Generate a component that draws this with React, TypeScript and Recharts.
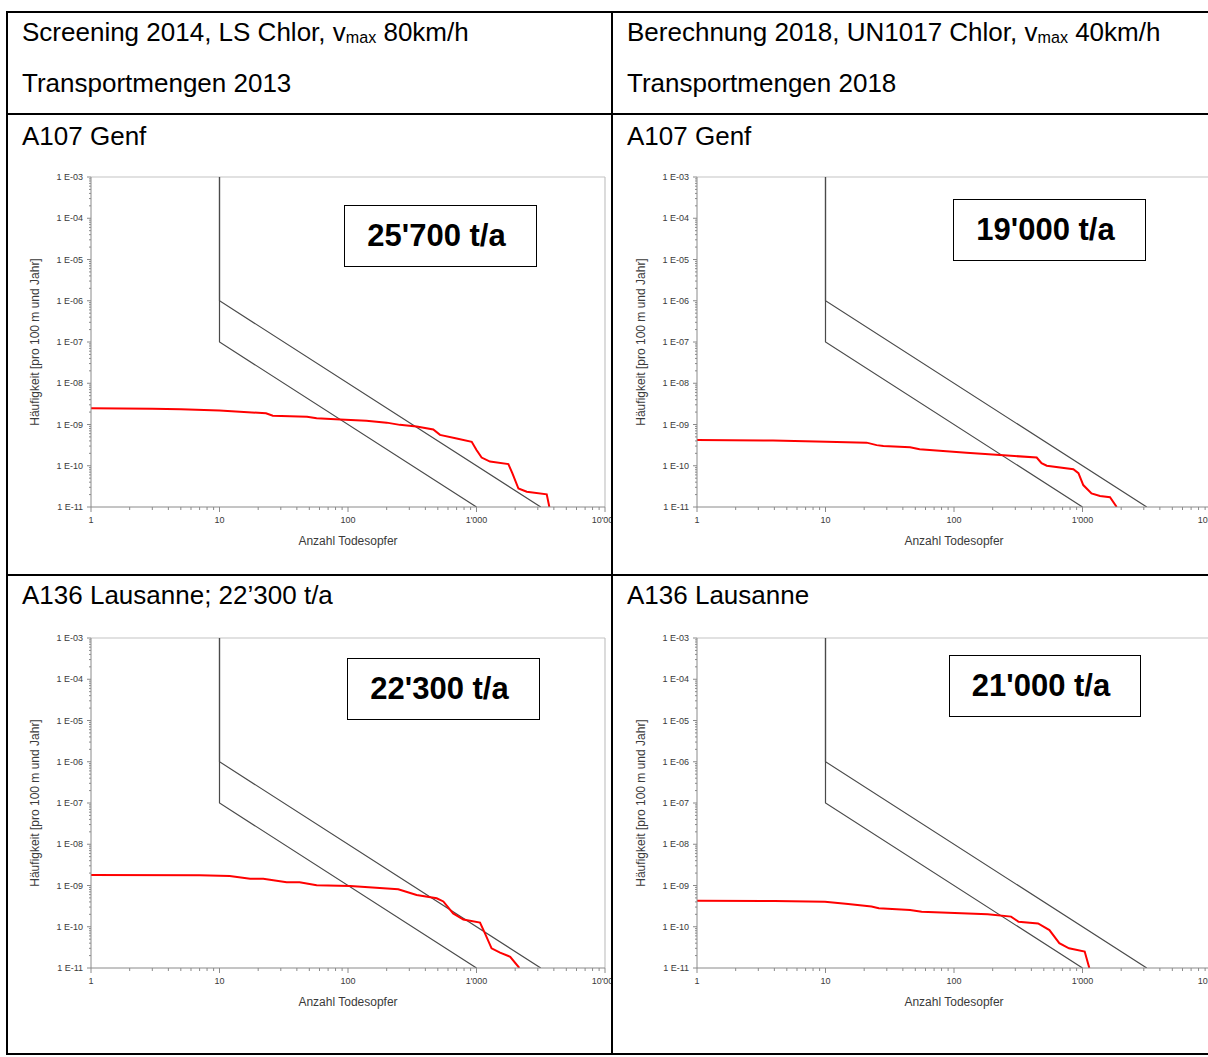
import React from 'react';
import { LineChart, Line, XAxis, YAxis, ReferenceLine } from 'recharts';

// ---------- axis ticks ----------
const xMajorTicks = [1, 10, 100, 1000, 10000];
const xTickLabels = ['1', '10', '100', "1'000", "10'000"];
const yMajorTicks = [1e-11, 1e-10, 1e-9, 1e-8, 1e-7, 1e-6, 1e-5, 1e-4, 1e-3];
const yTickLabels = ['1 E-11', '1 E-10', '1 E-09', '1 E-08', '1 E-07', '1 E-06', '1 E-05', '1 E-04', '1 E-03'];
const minorMultipliers = [2, 3, 4, 5, 6, 7, 8, 9];

// ---------- criteria lines (FN diagram) ----------
const limitUpperN = [10, 10, 3162];
const limitUpperF = [1e-3, 1e-6, 1e-11];
const limitLowerN = [10, 10, 1000];
const limitLowerF = [1e-3, 1e-7, 1e-11];

// ---------- FN curves ----------
// A107 Genf, Screening 2014
const genf2014N = [1, 3, 5, 10, 23, 26, 48, 57, 87, 139, 200, 253, 342, 461, 520, 701, 918, 1000, 1096, 1274, 1770, 1900, 2120, 2460, 3520, 3690];
const genf2014F = [2.46e-9, 2.42e-9, 2.35e-9, 2.17e-9, 1.87e-9, 1.63e-9, 1.55e-9, 1.42e-9, 1.33e-9, 1.24e-9, 1.11e-9, 9.8e-10, 8.9e-10, 7.6e-10, 5.6e-10, 4.6e-10, 3.8e-10, 2.4e-10, 1.58e-10, 1.26e-10, 1.1e-10, 6.6e-11, 2.8e-11, 2.35e-11, 2.03e-11, 1e-11];

// A107 Genf, Berechnung 2018
const genf2018N = [1, 3.9, 10.2, 20.9, 25, 28.2, 45.5, 54, 125, 228, 440, 480, 527, 849, 930, 1014, 1175, 1368, 1637, 1846];
const genf2018F = [4.2e-10, 4.1e-10, 3.84e-10, 3.63e-10, 3.16e-10, 3.0e-10, 2.8e-10, 2.5e-10, 2.08e-10, 1.82e-10, 1.58e-10, 1.15e-10, 1.0e-10, 8.2e-11, 6.6e-11, 3.4e-11, 2.14e-11, 1.85e-11, 1.72e-11, 1e-11];

// A136 Lausanne, Screening 2014
const lausanne2014N = [1, 7, 12, 17.3, 21.9, 33.3, 42, 57, 104, 246, 342, 490, 552, 658, 790, 1065, 1164, 1310, 1525, 1830, 2155];
const lausanne2014F = [1.8e-9, 1.78e-9, 1.7e-9, 1.46e-9, 1.45e-9, 1.2e-9, 1.2e-9, 1.02e-9, 9.7e-10, 8.1e-10, 5.9e-10, 4.9e-10, 4.1e-10, 2.1e-10, 1.5e-10, 1.26e-10, 6.9e-11, 3.0e-11, 2.35e-11, 1.87e-11, 1e-11];

// A136 Lausanne, Berechnung 2018
const lausanne2018N = [1, 4, 9.9, 15, 22.8, 26, 45.5, 56, 183, 278, 318, 451, 553, 660, 785, 1040, 1130];
const lausanne2018F = [4.27e-10, 4.2e-10, 4.05e-10, 3.56e-10, 3.1e-10, 2.8e-10, 2.56e-10, 2.3e-10, 2.0e-10, 1.76e-10, 1.32e-10, 1.2e-10, 8.3e-11, 4.0e-11, 3.0e-11, 2.5e-11, 1e-11];

// ---------- texts ----------
const tonnages = ["25'700 t/a", "19'000 t/a", "22'300 t/a", "21'000 t/a"];
const xAxisTitle = 'Anzahl Todesopfer';
const yAxisTitle = 'Häufigkeit [pro 100 m und Jahr]';

type Pt = { n: number; f: number };
const toPts = (ns: number[], fs: number[]): Pt[] => ns.map((n, i) => ({ n, f: fs[i] }));

const round = (v: number) => Number(v.toPrecision(6));
const xTicks: number[] = [];
xMajorTicks.forEach((d, i) => {
  xTicks.push(d);
  if (i < xMajorTicks.length - 1) minorMultipliers.forEach((m) => xTicks.push(round(d * m)));
});
const yTicks: number[] = [];
yMajorTicks.forEach((d, i) => {
  yTicks.push(d);
  if (i < yMajorTicks.length - 1) minorMultipliers.forEach((m) => yTicks.push(round(d * m)));
});

const AXIS = '#8a8a8a';
const LABEL = '#3a3a3a';
const FONT = '"Liberation Sans", Arial, Helvetica, sans-serif';

const XTick = (props: any) => {
  const { x, y, payload } = props;
  const idx = xMajorTicks.indexOf(payload.value);
  const major = idx >= 0;
  return (
    <g>
      <line x1={x} x2={x} y1={y} y2={y + (major ? 5 : 3)} stroke={AXIS} strokeWidth={1} />
      {major && (
        <text x={x} y={y + 16} textAnchor="middle" fontSize={9} fill={LABEL}>
          {xTickLabels[idx]}
        </text>
      )}
    </g>
  );
};

const YTick = (props: any) => {
  const { x, y, payload } = props;
  const idx = yMajorTicks.indexOf(payload.value);
  const major = idx >= 0;
  return (
    <g>
      <line x1={x - (major ? 4 : 2)} x2={x} y1={y} y2={y} stroke={AXIS} strokeWidth={1} />
      {major && (
        <text x={x - 8} y={y + 3} textAnchor="end" fontSize={9} fill={LABEL}>
          {yTickLabels[idx]}
        </text>
      )}
    </g>
  );
};

const upperLine = toPts(limitUpperN, limitUpperF);
const lowerLine = toPts(limitLowerN, limitLowerF);

function FnChart({ redN, redF }: { redN: number[]; redF: number[] }) {
  const red = toPts(redN, redF);
  return (
    <LineChart width={632} height={459} margin={{ top: 62, right: 6, bottom: 0, left: 0 }}>
      <XAxis
        type="number"
        dataKey="n"
        scale="log"
        domain={[1, 10000]}
        allowDataOverflow
        ticks={xTicks}
        interval={0}
        tickSize={0}
        tickMargin={0}
        tickLine={false}
        tick={<XTick />}
        height={67}
        stroke={AXIS}
        label={{ value: xAxisTitle, position: 'center', fontSize: 12, fill: LABEL }}
      />
      <YAxis
        type="number"
        scale="log"
        domain={[1e-11, 1e-3]}
        allowDataOverflow
        ticks={yTicks}
        interval={0}
        tickSize={0}
        tickMargin={0}
        tickLine={false}
        tick={<YTick />}
        width={112}
        stroke={AXIS}
        label={{ value: yAxisTitle, angle: -90, position: 'center', fontSize: 12, fill: LABEL }}
      />
      <ReferenceLine y={1e-3} stroke="#c4c4c4" strokeWidth={1.2} />
      <ReferenceLine x={10000} stroke="#c4c4c4" strokeWidth={1.2} />
      <Line data={upperLine} dataKey="f" type="linear" stroke="#4a4a4a" strokeWidth={1.2} dot={false} isAnimationActive={false} />
      <Line data={lowerLine} dataKey="f" type="linear" stroke="#4a4a4a" strokeWidth={1.2} dot={false} isAnimationActive={false} />
      <Line data={red} dataKey="f" type="linear" stroke="#ff0000" strokeWidth={2} dot={false} isAnimationActive={false} />
    </LineChart>
  );
}

const line = (left: number, top: number, width: number, height: number) => (
  <div style={{ position: 'absolute', left, top, width, height, background: '#000' }} />
);

const textStyle = (left: number, top: number): React.CSSProperties => ({
  position: 'absolute',
  left,
  top,
  fontSize: 26,
  lineHeight: '30px',
  whiteSpace: 'nowrap',
  color: '#000',
});

const Vmax = () => (
  <>
    v<span style={{ fontSize: '0.62em', position: 'relative', top: 2 }}>max</span>
  </>
);

const TonBox = ({ left, top, width, text }: { left: number; top: number; width: number; text: string }) => (
  <div
    style={{
      position: 'absolute',
      left,
      top,
      width,
      height: 62,
      boxSizing: 'border-box',
      border: '1.5px solid #000',
      background: '#fff',
      display: 'flex',
      alignItems: 'center',
      justifyContent: 'center',
      paddingRight: 8,
      fontWeight: 'bold',
      fontSize: 31,
      whiteSpace: 'nowrap',
    }}
  >
    {text}
  </div>
);

const Cell = ({ left, top, children }: { left: number; top: number; children: React.ReactNode }) => (
  <div style={{ position: 'absolute', left, top, width: 603, height: 459, overflow: 'hidden' }}>
    <div style={{ position: 'absolute', left: -29, top: 0 }}>{children}</div>
  </div>
);

export default function App() {
  return (
    <div
      style={{
        position: 'absolute',
        left: 0,
        top: 0,
        width: 1208,
        height: 1057,
        overflow: 'hidden',
        background: '#fff',
        fontFamily: FONT,
      }}
    >
      <Cell left={8} top={115}>
        <FnChart redN={genf2014N} redF={genf2014F} />
      </Cell>
      <Cell left={614} top={115}>
        <FnChart redN={genf2018N} redF={genf2018F} />
      </Cell>
      <Cell left={8} top={576}>
        <FnChart redN={lausanne2014N} redF={lausanne2014F} />
      </Cell>
      <Cell left={614} top={576}>
        <FnChart redN={lausanne2018N} redF={lausanne2018F} />
      </Cell>

      <TonBox left={344} top={205} width={193} text={tonnages[0]} />
      <TonBox left={953} top={199} width={193} text={tonnages[1]} />
      <TonBox left={347} top={658} width={193} text={tonnages[2]} />
      <TonBox left={949} top={655} width={192} text={tonnages[3]} />

      {/* table grid */}
      {line(6, 11, 1300, 2)}
      {line(6, 11, 2, 1044)}
      {line(611, 11, 2, 1044)}
      {line(6, 113, 1300, 2)}
      {line(6, 574, 1300, 2)}
      {line(6, 1053, 1300, 2)}

      {/* header texts */}
      <div style={textStyle(22, 17)}>
        Screening 2014, LS Chlor, <Vmax /> 80km/h
      </div>
      <div style={textStyle(22, 68)}>Transportmengen 2013</div>
      <div style={textStyle(627, 17)}>
        Berechnung 2018, UN1017 Chlor, <Vmax /> 40km/h
      </div>
      <div style={textStyle(627, 68)}>Transportmengen 2018</div>
      <div style={textStyle(22, 121)}>A107 Genf</div>
      <div style={textStyle(627, 121)}>A107 Genf</div>
      <div style={textStyle(22, 580)}>A136 Lausanne; 22’300 t/a</div>
      <div style={textStyle(627, 580)}>A136 Lausanne</div>
    </div>
  );
}
